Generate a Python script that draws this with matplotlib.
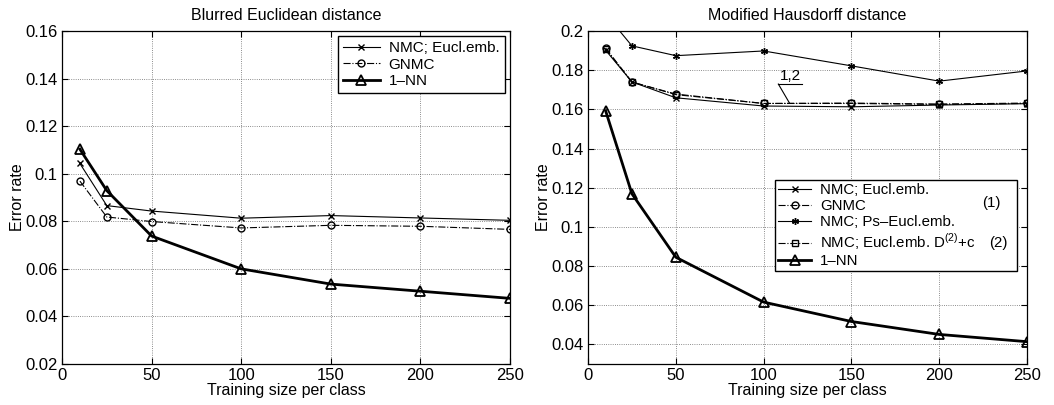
import matplotlib
matplotlib.use('Agg')
import matplotlib.pyplot as plt

plt.rcParams['font.family'] = ['Liberation Sans', 'DejaVu Sans']
plt.rcParams['mathtext.fontset'] = 'custom'
plt.rcParams['mathtext.rm'] = 'Liberation Sans'
plt.rcParams['font.size'] = 11.5

sizes = [10, 25, 50, 100, 150, 200, 250]

# Blurred Euclidean distance
be_nmc = [0.1043, 0.0866, 0.0843, 0.0813, 0.0824, 0.0814, 0.0804]
be_gnmc = [0.0969, 0.0818, 0.0799, 0.0772, 0.0783, 0.0779, 0.0766]
be_nn = [0.1103, 0.0929, 0.0738, 0.0600, 0.0536, 0.0506, 0.0476]

# Modified Hausdorff distance
mh_nmc = [0.1902, 0.1740, 0.1659, 0.1617, 0.1613, 0.1622, 0.1629]
mh_gnmc = [0.1913, 0.1739, 0.1678, 0.1630, 0.1632, 0.1627, 0.1632]
mh_ps = [0.2087, 0.1924, 0.1874, 0.1898, 0.1822, 0.1744, 0.1796]
mh_d2c = [0.1910, 0.1740, 0.1675, 0.1630, 0.1630, 0.1625, 0.1630]
mh_nn = [0.1593, 0.1169, 0.0845, 0.0616, 0.0517, 0.0451, 0.0414]

fig = plt.figure(figsize=(10.54, 4.05), dpi=100)
ax1 = fig.add_axes([0.0588, 0.1012, 0.4251, 0.8223])
ax2 = fig.add_axes([0.5579, 0.1012, 0.4165, 0.8223])

thin = dict(color='black', lw=0.8)
nn_style = dict(color='black', lw=2, marker='^', ms=7, mfc='none', mec='black', mew=1.3)

ax1.plot(sizes, be_nmc, '-', marker='x', ms=4, label='NMC; Eucl.emb.', **thin)
ax1.plot(sizes, be_gnmc, '-.', marker='o', ms=5, mfc='none', label='GNMC', **thin)
ax1.plot(sizes, be_nn, '-', label='1\u2013NN', **nn_style)
ax1.set_xlim(0, 250)
ax1.set_ylim(0.02, 0.16)
ax1.set_yticks([0.02, 0.04, 0.06, 0.08, 0.1, 0.12, 0.14, 0.16])
ax1.set_yticklabels(['0.02', '0.04', '0.06', '0.08', '0.1', '0.12', '0.14', '0.16'])
ax1.set_title('Blurred Euclidean distance', fontsize=11.5, pad=8)
ax1.legend(loc='upper right', bbox_to_anchor=(0.988, 0.985), borderaxespad=0,
           fancybox=False, edgecolor='black', framealpha=1,
           handlelength=2.4, borderpad=0.35, labelspacing=0.15, fontsize=11,
           handletextpad=0.6)

ax2.plot(sizes, mh_nmc, '-', marker='x', ms=4, label='NMC; Eucl.emb.', **thin)
ax2.plot(sizes, mh_gnmc, '-.', marker='o', ms=5, mfc='none', label='GNMC', **thin)
ax2.plot(sizes, mh_ps, '-', marker=(6, 2, 0), ms=5, label='NMC; Ps\u2013Eucl.emb.', **thin)
ax2.plot(sizes, mh_d2c, '-.', marker='s', ms=4, mfc='none', label='NMC; Eucl.emb. D$^{(2)}$+c', **thin)
ax2.plot(sizes, mh_nn, '-', label='1\u2013NN', **nn_style)
ax2.set_xlim(0, 250)
ax2.set_ylim(0.03, 0.2)
ax2.set_yticks([0.04, 0.06, 0.08, 0.1, 0.12, 0.14, 0.16, 0.18, 0.2])
ax2.set_yticklabels(['0.04', '0.06', '0.08', '0.1', '0.12', '0.14', '0.16', '0.18', '0.2'])
ax2.set_title('Modified Hausdorff distance', fontsize=11.5, pad=8)
ax2.legend(loc='upper left', bbox_to_anchor=(0.426, 0.553, 0.551, 0.0), mode='expand',
           borderaxespad=0, fancybox=False, edgecolor='black', framealpha=1,
           handlelength=2.2, borderpad=0.2, labelspacing=0.15, fontsize=10.8,
           handletextpad=0.6)
ax2.text(0.918, 0.483, '(1)', transform=ax2.transAxes, ha='center', va='center', fontsize=10.8, zorder=10)
ax2.text(0.935, 0.363, '(2)', transform=ax2.transAxes, ha='center', va='center', fontsize=10.8, zorder=10)

# "1,2" pointer annotation
ax2.plot([108.4, 121.7], [0.1729, 0.1729], color='black', lw=0.8)
ax2.plot([108.4, 114.6], [0.1729, 0.1634], color='black', lw=0.8)
ax2.text(115, 0.1733, '1,2', ha='center', va='bottom', fontsize=11)

for ax in (ax1, ax2):
    ax.set_xticks([0, 50, 100, 150, 200, 250])
    ax.tick_params(labelsize=12)
    ax.set_xlabel('Training size per class', labelpad=0)
    ax.set_ylabel('Error rate', labelpad=0)
    ax.grid(True, linestyle=':', color='black', lw=0.6, alpha=0.6)
    ax.set_axisbelow(True)
    ax.tick_params(direction='in', top=True, right=True, length=4, pad=3)
    for s in ax.spines.values():
        s.set_linewidth(0.9)

fig.savefig('out.png', dpi=100)
